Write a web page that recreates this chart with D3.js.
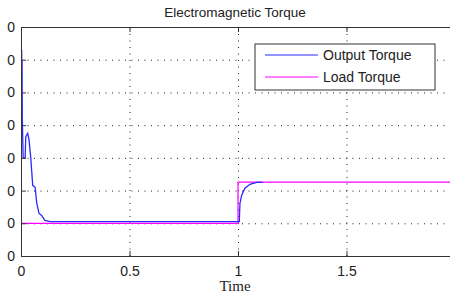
<!DOCTYPE html>
<html>
<head>
<meta charset="utf-8">
<script src="https://cdn.jsdelivr.net/npm/d3@7"></script>
<style>
  body { margin: 0; background: #fff; }
  svg { display: block; }
</style>
</head>
<body>
<div id="vis"></div>
<script>
// Data
const outputTime = [0, 0.002, 0.003, 0.004, 0.005, 0.006, 0.008, 0.010, 0.019, 0.022, 0.031, 0.037, 0.045, 0.054, 0.065, 0.072, 0.083, 0.095, 0.11, 0.134, 0.5, 1.0, 1.006, 1.009, 1.017, 1.032, 1.055, 1.086, 1.114];
const outputTorque = [5.45, 3.3, 5.3, 3.5, 5.0, 3.2, 2.6, 2.0, 2.0, 2.65, 2.75, 2.55, 2.0, 1.16, 1.1, 0.64, 0.3, 0.24, 0.09, 0.05, 0.05, 0.05, 0.05, 0.61, 0.86, 1.07, 1.19, 1.25, 1.25];
const loadTime = [0, 1, 1, 2];
const loadTorque = [0, 0, 1.26, 1.26];
const xTicks = [0, 0.5, 1, 1.5];
const xTickLabels = ["0", "0.5", "1", "1.5"];
const yTicks = [-1, 0, 1, 2, 3, 4, 5, 6];
const yTickLabels = ["0", "0", "0", "0", "0", "0", "0", "0"];
const seriesNames = ["Output Torque", "Load Torque"];
const seriesColors = ["#2a2aff", "#ff00ff"];

// Frame and margins
const FRAME_WIDTH = 450;
const FRAME_HEIGHT = 297;
const MARGINS = {left: 21, top: 27, right: -5, bottom: 41};
const VIS_WIDTH = FRAME_WIDTH - MARGINS.left - MARGINS.right;
const VIS_HEIGHT = FRAME_HEIGHT - MARGINS.top - MARGINS.bottom;

const FRAME = d3.select("#vis")
  .append("svg")
    .attr("width", FRAME_WIDTH)
    .attr("height", FRAME_HEIGHT);

const X_SCALE = d3.scaleLinear().domain([0, 2]).range([0, VIS_WIDTH]);
const Y_SCALE = d3.scaleLinear().domain([-1, 6]).range([VIS_HEIGHT, 0]);

const PLOT = FRAME.append("g")
  .attr("transform", "translate(" + MARGINS.left + "," + MARGINS.top + ")");

PLOT.append("clipPath").attr("id", "clip")
  .append("rect").attr("width", VIS_WIDTH).attr("height", VIS_HEIGHT);

// Dotted grid
PLOT.append("g")
  .attr("transform", "translate(0," + VIS_HEIGHT + ")")
  .call(d3.axisBottom(X_SCALE).tickValues(xTicks.slice(1)).tickSize(-VIS_HEIGHT).tickFormat(""))
  .call(g => g.select(".domain").remove())
  .call(g => g.selectAll("line").attr("stroke", "#222").attr("stroke-dasharray", "1,5.5"));

PLOT.append("g")
  .call(d3.axisLeft(Y_SCALE).tickValues(yTicks.slice(1, -1)).tickSize(-VIS_WIDTH).tickFormat(""))
  .call(g => g.select(".domain").remove())
  .call(g => g.selectAll("line").attr("stroke", "#222").attr("stroke-dasharray", "1,5.5"));

// Series lines
const line = d3.line()
  .x((d) => X_SCALE(d[0]))
  .y((d) => Y_SCALE(d[1]));

PLOT.append("path")
  .datum(loadTime.map((t, i) => [t, loadTorque[i]]))
  .attr("clip-path", "url(#clip)")
  .attr("fill", "none")
  .attr("stroke", seriesColors[1])
  .attr("stroke-width", 1.2)
  .attr("d", line);

PLOT.append("path")
  .datum(outputTime.map((t, i) => [t, outputTorque[i]]))
  .attr("clip-path", "url(#clip)")
  .attr("fill", "none")
  .attr("stroke", seriesColors[0])
  .attr("stroke-width", 1.3)
  .attr("d", line);

// Axes with inward ticks
PLOT.append("g")
  .attr("transform", "translate(0," + VIS_HEIGHT + ")")
  .call(d3.axisBottom(X_SCALE).tickValues(xTicks).tickSizeInner(-5).tickSizeOuter(0).tickPadding(10)
    .tickFormat((d, i) => xTickLabels[i]))
  .call(g => g.select(".domain").attr("stroke", "#333"))
  .call(g => g.selectAll("line").attr("stroke", "#333"))
  .call(g => g.selectAll("text").attr("font-family", "Liberation Sans, Arial, sans-serif")
    .attr("font-size", "14px").attr("fill", "#222"));

PLOT.append("g")
  .call(d3.axisTop(X_SCALE).tickValues(xTicks).tickSizeInner(-5).tickSizeOuter(0).tickFormat(""))
  .call(g => g.select(".domain").attr("stroke", "#333"))
  .call(g => g.selectAll("line").attr("stroke", "#333"));

PLOT.append("g")
  .call(d3.axisLeft(Y_SCALE).tickValues(yTicks).tickSizeInner(-5).tickSizeOuter(0).tickPadding(6)
    .tickFormat((d, i) => yTickLabels[i]))
  .call(g => g.select(".domain").attr("stroke", "#333"))
  .call(g => g.selectAll("line").attr("stroke", "#333"))
  .call(g => g.selectAll("text").attr("font-family", "Liberation Sans, Arial, sans-serif")
    .attr("font-size", "14px").attr("fill", "#222"));

// Title
FRAME.append("text")
  .attr("x", 235)
  .attr("y", 17)
  .attr("text-anchor", "middle")
  .attr("font-family", "Liberation Sans, Arial, sans-serif")
  .attr("font-size", "13.5px")
  .attr("fill", "#222")
  .text("Electromagnetic Torque");

// X axis label
FRAME.append("text")
  .attr("x", 235)
  .attr("y", 291)
  .attr("text-anchor", "middle")
  .attr("font-family", "Liberation Serif, Times New Roman, serif")
  .attr("font-size", "15px")
  .attr("fill", "#222")
  .text("Time");

// Legend
const LEGEND = FRAME.append("g").attr("transform", "translate(255,44)");
LEGEND.append("rect")
  .attr("width", 180)
  .attr("height", 46)
  .attr("fill", "#fff")
  .attr("stroke", "#333")
  .attr("stroke-width", 1);

seriesNames.forEach((name, i) => {
  LEGEND.append("line")
    .attr("x1", 10).attr("x2", 63)
    .attr("y1", 11 + i * 22).attr("y2", 11 + i * 22)
    .attr("stroke", seriesColors[i])
    .attr("stroke-width", 1.2);
  LEGEND.append("text")
    .attr("x", 68)
    .attr("y", 16 + i * 22)
    .attr("font-family", "Liberation Sans, Arial, sans-serif")
    .attr("font-size", "14px")
    .attr("fill", "#222")
    .text(name);
});
</script>
</body>
</html>
